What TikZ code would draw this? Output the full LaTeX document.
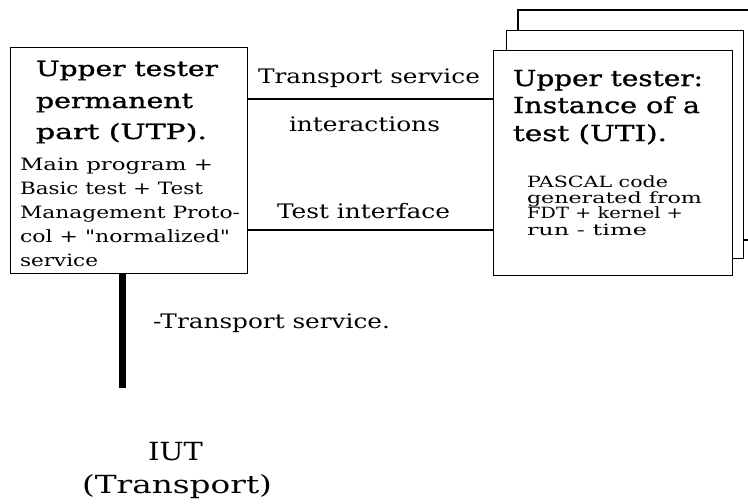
\documentclass[tikz,border=0pt]{standalone}
\usepackage{fontspec}
\setmainfont{DejaVu Serif}
\newfontfamily\heavyfont[FakeBold=1]{DejaVu Serif}
\newfontfamily\rawqfont[Ligatures=TeXOff]{DejaVu Serif}
\usepackage{graphicx}
\newcommand{\fitw}[2]{\resizebox{#1pt}{\height}{#2}}
\begin{document}
\begin{tikzpicture}[x=1pt,y=-1pt,
  box/.style={draw, line width=1.3pt, fill=white, inner sep=0pt, anchor=north west},
  link/.style={line width=2pt},
  txt/.style={anchor=base west, inner sep=0pt, outer sep=0pt},
  titlefont/.style={txt, font=\heavyfont\fontsize{21}{21}\selectfont},
  rtitlefont/.style={txt, font=\heavyfont\fontsize{22}{22}\selectfont},
  smallL/.style={txt, font=\fontsize{17}{17}\selectfont},
  smallR/.style={txt, font=\fontsize{15.5}{15.5}\selectfont},
  label/.style={txt, font=\fontsize{20}{20}\selectfont},
  iutfont/.style={txt, font=\fontsize{25}{25}\selectfont}]
\useasboundingbox (0,0) rectangle (748,504);
% stacked test instances
\draw[line width=1.3pt, fill=white] (748,10) -- (518,10) -- (518,240) -- (748,240);
\node[box, minimum width=237pt, minimum height=228pt] (uti2) at (506,30) {};
\node[box, minimum width=239pt, minimum height=225pt] (uti) at (493,50) {};
% permanent part
\node[box, minimum width=237pt, minimum height=226pt] (utp) at (10,47) {};
% connectors
\coordinate (ya) at (0,99);
\coordinate (yb) at (0,230);
\draw[link] (utp.east |- ya) -- (uti.west |- ya);
\draw[link] (utp.east |- yb) -- (uti.west |- yb);
\coordinate (tsend) at (122,388);
\draw[line width=7pt] (utp.south -| tsend) -- (tsend);
% left box text
\node[titlefont] (l1) at (36,76) {\fitw{182}{Upper tester}};
\node[titlefont] (l2) at (36,108) {\fitw{157}{permanent}};
\node[titlefont] (l3) at (36,139) {\fitw{171}{part (UTP).}};
\node[smallL] (l4) at (20,170) {\fitw{193}{Main program +}};
\node[smallL] (l5) at (20,194) {\fitw{183}{Basic test + Test}};
\node[smallL] (l6) at (20,218) {\fitw{220}{Management Proto-}};
\node[smallL] (l7) at (20,242) {\fitw{210}{\rawqfont col + "normalized"}};
\node[smallL] (l8) at (20,266) {\fitw{78}{service}};
% middle labels
\node[label] (m1) at (258,83) {\fitw{222}{Transport service}};
\node[label] (m2) at (289,131) {\fitw{151}{interactions}};
\node[label] (m3) at (277,218) {\fitw{173}{Test interface}};
% right box text
\node[rtitlefont] (r1) at (513,86) {\fitw{190}{Upper tester:}};
\node[rtitlefont] (r2) at (513,113) {\fitw{187}{Instance of a}};
\node[rtitlefont] (r3) at (513,141) {\fitw{154}{test (UTI).}};
\node[smallR] (r4) at (527,187) {\fitw{141}{PASCAL code}};
\node[smallR] (r5) at (527,203) {\fitw{175}{generated from}};
\node[smallR] (r6) at (527,218) {\fitw{156}{FDT + kernel +}};
\node[smallR] (r7) at (527,235) {\fitw{120}{run - time}};
% bottom
\node[label] (ts) at (153,328) {\fitw{237}{-Transport service.}};
\node[iutfont] (iut) at (148,460) {\fitw{55}{IUT}};
\node[iutfont] (iut2) at (82,493) {\fitw{190}{(Transport)}};
\end{tikzpicture}
\end{document}
